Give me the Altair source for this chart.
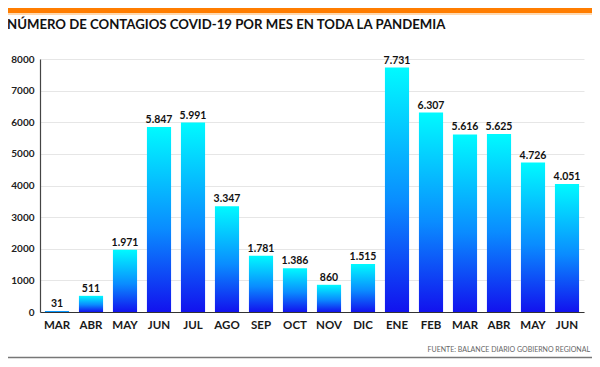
import altair as alt
import pandas as pd

months = ["MAR", "ABR", "MAY", "JUN", "JUL", "AGO", "SEP", "OCT", "NOV", "DIC",
          "ENE", "FEB", "MAR ", "ABR ", "MAY ", "JUN "]
cases = [31, 511, 1971, 5847, 5991, 3347, 1781, 1386, 860, 1515,
         7731, 6307, 5616, 5625, 4726, 4051]
y_ticks = [0, 1000, 2000, 3000, 4000, 5000, 6000, 7000, 8000]
title_text = "NÚMERO DE CONTAGIOS COVID-19 POR MES EN TODA LA PANDEMIA"
source_text = "FUENTE: BALANCE DIARIO GOBIERNO REGIONAL"

df = pd.DataFrame({"mes": months, "casos": cases})
df["label"] = [f"{v:,}".replace(",", ".") for v in cases]

FONT = "Lato"
W, H = 544, 253

grad = alt.Gradient(
    gradient="linear",
    stops=[alt.GradientStop(color="#00faff", offset=0),
           alt.GradientStop(color="#0a8cff", offset=0.55),
           alt.GradientStop(color="#1212ee", offset=1)],
    x1=0, x2=0, y1=0, y2=1,
)

x_enc = alt.X("mes:N", sort=months, title=None,
              scale=alt.Scale(paddingInner=0.29, paddingOuter=0.145),
              axis=alt.Axis(labelAngle=0, ticks=False, labelPadding=7,
                            labelFontSize=11.5, labelColor="#1a1a1a",
                            labelFont=FONT, labelFontWeight="bold",
                            domainColor="#333333", domainWidth=1.2,
                            labelExpr="trim(datum.label)"))
y_enc = alt.Y("casos:Q", title=None,
              scale=alt.Scale(domain=[0, 8000], nice=False),
              axis=alt.Axis(values=y_ticks, format="d", ticks=False,
                            labelPadding=6, labelOverlap=False,
                            labelFontSize=10, labelColor="#222222",
                            labelFont=FONT, labelFontWeight="bold",
                            gridColor="#e6e6e6", domainColor="#444444",
                            domainWidth=1.2))

bars = alt.Chart(df).mark_bar(fill=grad).encode(x=x_enc, y=y_enc)

labels = alt.Chart(df).mark_text(
    baseline="bottom", dy=-2, fontSize=10.5, font=FONT, fontWeight="bold",
    color="#111111"
).encode(x=x_enc, y=y_enc, text="label:N")

one = pd.DataFrame({"t": [title_text], "s": [source_text]})

orange = alt.Chart(one).mark_rect(color="#ff7d00").encode(
    x=alt.value(-32), x2=alt.value(552), y=alt.value(-51), y2=alt.value(-46))
orange2 = alt.Chart(one).mark_rect(color="#ffd9b0").encode(
    x=alt.value(-32), x2=alt.value(552), y=alt.value(-46), y2=alt.value(-44))

title = alt.Chart(one).mark_text(
    align="left", baseline="alphabetic", fontSize=13.2, font=FONT,
    fontWeight="bold", color="#111111"
).encode(x=alt.value(-33), y=alt.value(-30), text="t:N")

source = alt.Chart(one).mark_text(
    align="right", baseline="alphabetic", fontSize=7, font=FONT,
    color="#666666"
).encode(x=alt.value(550), y=alt.value(42 + H - 2), text="s:N")

bottom_line = alt.Chart(one).mark_rule(color="#777777", strokeWidth=1.5).encode(
    x=alt.value(-32), x2=alt.value(552), y=alt.value(H + 45.5))

chart = alt.layer(bars, labels, orange, orange2, title, source, bottom_line).properties(
    width=W, height=H,
    padding={"left": 32, "top": 51, "right": 8, "bottom": 47},
    autosize=alt.AutoSizeParams(type="none"),
).configure_view(stroke=None)

chart.save("out.html", embed_options={"renderer": "svg", "actions": False})
